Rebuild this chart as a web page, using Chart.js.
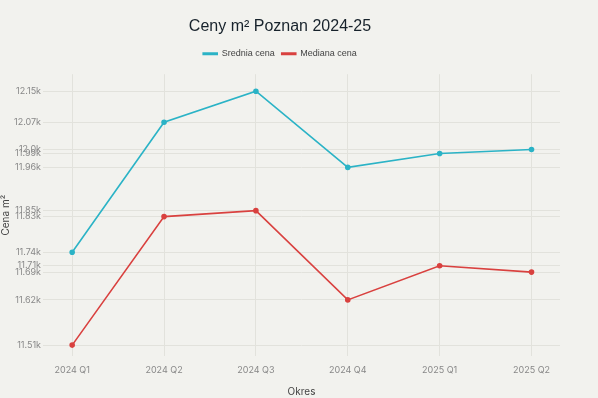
<!DOCTYPE html>
<html>
<head>
<meta charset="utf-8">
<script src="https://cdn.jsdelivr.net/npm/chart.js@4"></script>
<style>
  html, body { margin: 0; padding: 0; background: #f2f2ee; }
  #wrap { width: 598px; height: 398px; }
</style>
</head>
<body>
<div id="wrap"><canvas id="priceChart"></canvas></div>
<script>
// data
const quarters = ['2024 Q1', '2024 Q2', '2024 Q3', '2024 Q4', '2025 Q1', '2025 Q2'];
const sredniaCena = [11744, 12072, 12150, 11958, 11993, 12003];
const medianaCena = [11510, 11834, 11849, 11624, 11710, 11694];

// y ticks sit on the data values themselves
const yTickValues = sredniaCena.concat(medianaCena);
const fmtK = v => {
  let s = (v / 1000).toFixed(2);
  if (s.endsWith('0')) s = s.slice(0, -1);
  return s + 'k';
};

const toPoints = arr => arr.map((v, i) => ({ x: i, y: v }));

Chart.defaults.font.family = 'Inter, "Noto Sans", sans-serif';
Chart.defaults.color = '#888';

// extra room under the legend
const legendGap = {
  id: 'legendGap',
  beforeInit(chart) {
    const origFit = chart.legend.fit;
    chart.legend.fit = function () {
      origFit.bind(chart.legend)();
      this.height += 6;
    };
  }
};

const ctx = document.getElementById('priceChart').getContext('2d');
new Chart(ctx, {
  type: 'line',
  data: {
    datasets: [{
      label: 'Srednia cena',
      data: toPoints(sredniaCena),
      borderColor: '#2bb3c6',
      backgroundColor: '#2bb3c6',
      borderWidth: 1.6,
      pointRadius: 2,
      tension: 0
    }, {
      label: 'Mediana cena',
      data: toPoints(medianaCena),
      borderColor: '#d9413f',
      backgroundColor: '#d9413f',
      borderWidth: 1.6,
      pointRadius: 2,
      tension: 0
    }]
  },
  options: {
    responsive: true,
    maintainAspectRatio: false,
    animation: false,
    layout: { padding: { left: 0, right: 38, top: 14, bottom: 0 } },
    plugins: {
      title: {
        display: true,
        text: 'Ceny m² Poznan 2024-25',
        color: '#17222b',
        font: { family: '"Liberation Sans", Arial, sans-serif', size: 16, weight: 'normal' },
        padding: { top: 3, bottom: 6 }
      },
      legend: {
        labels: {
          color: '#444',
          font: { family: '"Liberation Sans", Arial, sans-serif', size: 9 },
          boxWidth: 14,
          boxHeight: 1.5,
          padding: 7
        }
      },
      tooltip: { enabled: false }
    },
    scales: {
      x: {
        type: 'linear',
        min: -0.317,
        max: 5.31,
        afterBuildTicks: axis => {
          axis.ticks = quarters.map((q, i) => ({ value: i }));
        },
        ticks: {
          font: { size: 9 },
          color: '#888',
          padding: 9,
          callback: v => quarters[v]
        },
        grid: { color: '#e2e2dc', drawTicks: false },
        border: { display: false },
        title: { display: true, text: 'Okres', color: '#444', font: { size: 10 }, padding: { top: 1, bottom: 0 } }
      },
      y: {
        min: 11482,
        max: 12193,
        afterBuildTicks: axis => {
          axis.ticks = yTickValues.map(v => ({ value: v }));
        },
        ticks: {
          autoSkip: false,
          font: { size: 9 },
          color: '#888',
          padding: 2,
          callback: v => fmtK(v)
        },
        grid: { color: '#e2e2dc', drawTicks: false },
        border: { display: false },
        title: { display: true, text: 'Cena m²', color: '#444', font: { size: 10 }, padding: 0 }
      }
    }
  },
  plugins: [legendGap]
});
</script>
</body>
</html>
